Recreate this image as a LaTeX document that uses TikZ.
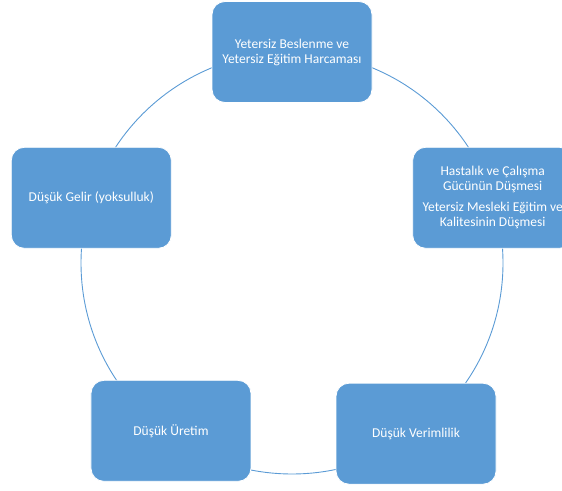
\documentclass[tikz,border=0pt]{standalone}
\usepackage{fontspec}
\setmainfont{Carlito}
\usetikzlibrary{positioning, calc, backgrounds}
\definecolor{cycleblue}{RGB}{91,155,213}

\begin{document}
\begin{tikzpicture}[
    x=1pt, y=1pt,
    stage/.style={rectangle, rounded corners=13pt, draw=white, line width=0.8pt,
                  fill=cycleblue, text=white, minimum width=160pt, minimum height=101pt,
                  inner sep=2pt, font=\fontsize{13.5}{15}\selectfont, align=center},
    ring/.style={draw=cycleblue, line width=0.9pt}
]
    \useasboundingbox (0,0) rectangle (562,490);
    \coordinate (center) at (292,227);

    % Stages around the cycle
    \node[stage] (nutrition) at ($(center)+(90:211)$) {Yetersiz Beslenme ve\\Yetersiz Eğitim Harcaması};
    \node[stage] (health) at ($(center)+(18:211)$) {Hastalık ve Çalışma\\Gücünün Düşmesi\\[6pt]Yetersiz Mesleki Eğitim ve\\Kalitesinin Düşmesi};
    \node[stage] (productivity) at ($(center)+(-54:211)$) {Düşük Verimlilik};
    \node[stage, yshift=5pt] (production) at ($(center)+(-125:211)$) {Düşük Üretim};
    \node[stage] (income) at ($(center)+(162:211)$) {Düşük Gelir (yoksulluk)};

    % Ring behind the stages
    \begin{scope}[on background layer]
        \draw[ring] (center) circle (211);
    \end{scope}
\end{tikzpicture}
\end{document}
